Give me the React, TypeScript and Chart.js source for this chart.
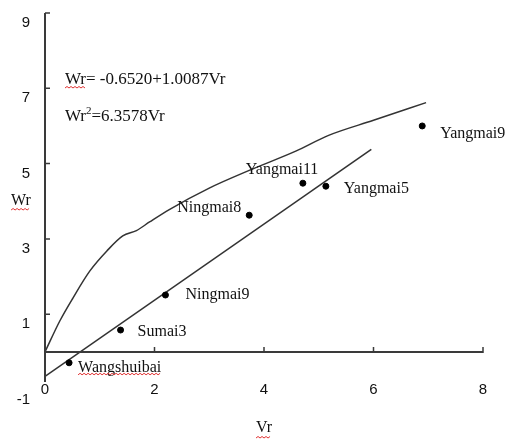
import React, { useEffect, useRef } from 'react';
import { Chart, registerables } from 'chart.js';

Chart.register(...registerables);

// ---- data ----
const varieties = ['Wangshuibai', 'Sumai3', 'Ningmai9', 'Ningmai8', 'Yangmai11', 'Yangmai5', 'Yangmai9'];
const vrValues = [0.44, 1.38, 2.2, 3.73, 4.71, 5.13, 6.89];
const wrValues = [-0.29, 0.58, 1.51, 3.63, 4.48, 4.4, 6.0];

const regressionVr = [0, 5.96];
const regressionWr = [-0.65, 5.38];

const limitVr = [0, 0.27, 0.51, 0.82, 1.13, 1.42, 1.67, 1.91, 2.27, 3.0, 3.73, 4.58, 5.18, 6.0, 6.96];
const limitWr = [0, 0.82, 1.43, 2.15, 2.68, 3.08, 3.22, 3.45, 3.78, 4.35, 4.82, 5.33, 5.75, 6.15, 6.62];

const xTickValues = [0, 2, 4, 6, 8];
const yTickValues = [-1, 1, 3, 5, 7, 9];
const yAxisMin = -0.8;
const yAxisMax = 9;

const xTitle = 'Vr';
const yTitle = 'Wr';
const equationLine = 'Wr= -0.6520+1.0087Vr';
const equationCurve = ['Wr', '2', '=6.3578Vr'];

// ---- label placement (style, not data) ----
const labelPlacement: Record<string, { dx: number; dy: number; align: CanvasTextAlign }> = {
  Wangshuibai: { dx: 9, dy: 5, align: 'left' },
  Sumai3: { dx: 17, dy: 2, align: 'left' },
  Ningmai9: { dx: 20, dy: 0, align: 'left' },
  Ningmai8: { dx: -8, dy: -7, align: 'right' },
  Yangmai11: { dx: -57, dy: -13, align: 'left' },
  Yangmai5: { dx: 18, dy: 3, align: 'left' },
  Yangmai9: { dx: 18, dy: 8, align: 'left' },
};

const SERIF = '"Liberation Serif", "DejaVu Serif", serif';
const SANS = '"Liberation Sans", Arial, sans-serif';

function squiggle(ctx: CanvasRenderingContext2D, x1: number, x2: number, y: number) {
  ctx.save();
  ctx.strokeStyle = '#e03030';
  ctx.lineWidth = 1;
  ctx.beginPath();
  let up = true;
  ctx.moveTo(x1, y);
  for (let x = x1 + 2; x <= x2; x += 2) {
    ctx.lineTo(x, up ? y - 1.5 : y);
    up = !up;
  }
  ctx.stroke();
  ctx.restore();
}

const overlayPlugin = {
  id: 'overlay',
  afterDraw(chart: any) {
    const ctx: CanvasRenderingContext2D = chart.ctx;
    const xs = chart.scales.x;
    const ys = chart.scales.y;
    const x0 = xs.getPixelForValue(0);
    const y0 = ys.getPixelForValue(0);

    ctx.save();
    // axes lines
    ctx.strokeStyle = '#3a3a3a';
    ctx.lineWidth = 2;
    ctx.beginPath();
    ctx.moveTo(x0, ys.getPixelForValue(yAxisMax));
    ctx.lineTo(x0, ys.getPixelForValue(yAxisMin));
    ctx.moveTo(x0, y0);
    ctx.lineTo(xs.getPixelForValue(8), y0);
    ctx.stroke();

    // inside tick marks
    ctx.lineWidth = 1.5;
    ctx.beginPath();
    yTickValues.forEach((v) => {
      if (v < 0) return;
      const p = ys.getPixelForValue(v);
      ctx.moveTo(x0, p);
      ctx.lineTo(x0 + 5, p);
    });
    xTickValues.forEach((v) => {
      if (v === 0) return;
      const p = xs.getPixelForValue(v);
      ctx.moveTo(p, y0 + 1);
      ctx.lineTo(p, y0 - 5);
    });
    ctx.stroke();

    // point labels
    ctx.fillStyle = '#111';
    ctx.font = `16px ${SERIF}`;
    ctx.textBaseline = 'middle';
    varieties.forEach((name, i) => {
      const pl = labelPlacement[name];
      const px = xs.getPixelForValue(vrValues[i]);
      const py = ys.getPixelForValue(wrValues[i]);
      ctx.textAlign = pl.align;
      ctx.fillText(name, px + pl.dx, py + pl.dy);
      if (name === 'Wangshuibai') {
        const w = ctx.measureText(name).width;
        squiggle(ctx, px + pl.dx, px + pl.dx + w, py + pl.dy + 7);
      }
    });

    // equations
    ctx.textAlign = 'left';
    ctx.font = `17px ${SERIF}`;
    ctx.fillText(equationLine, 65, 80);
    const wW = ctx.measureText('Wr').width;
    squiggle(ctx, 65, 65 + wW, 88);
    let ex = 65;
    ctx.fillText(equationCurve[0], ex, 117);
    ex += ctx.measureText(equationCurve[0]).width;
    ctx.font = `11px ${SERIF}`;
    ctx.fillText(equationCurve[1], ex, 111);
    ex += ctx.measureText(equationCurve[1]).width;
    ctx.font = `17px ${SERIF}`;
    ctx.fillText(equationCurve[2], ex, 117);

    // y title (horizontal)
    ctx.font = `16px ${SERIF}`;
    ctx.textAlign = 'center';
    ctx.fillText(yTitle, 21, 201);
    const yw = ctx.measureText(yTitle).width;
    squiggle(ctx, 21 - yw / 2, 21 + yw / 2, 210);

    // x title squiggle
    const cx = (chart.chartArea.left + chart.chartArea.right) / 2;
    const xw = ctx.measureText(xTitle).width;
    squiggle(ctx, cx - xw / 2, cx + xw / 2, 438);
    ctx.restore();
  },
};

export default function App() {
  const canvasRef = useRef<HTMLCanvasElement | null>(null);

  useEffect(() => {
    if (!canvasRef.current) return;
    const pts = vrValues.map((v, i) => ({ x: v, y: wrValues[i] }));
    const reg = regressionVr.map((v, i) => ({ x: v, y: regressionWr[i] }));
    const lim = limitVr.map((v, i) => ({ x: v, y: limitWr[i] }));

    const chart = new Chart(canvasRef.current, {
      type: 'scatter',
      data: {
        datasets: [
          {
            label: 'varieties',
            data: pts,
            pointRadius: 3,
            pointBackgroundColor: '#000',
            pointBorderColor: '#000',
            showLine: false,
          },
          {
            label: 'regression',
            data: reg,
            showLine: true,
            pointRadius: 0,
            borderColor: '#333',
            borderWidth: 1.5,
          },
          {
            label: 'limit',
            data: lim,
            showLine: true,
            pointRadius: 0,
            borderColor: '#333',
            borderWidth: 1.5,
            tension: 0.4,
            cubicInterpolationMode: 'monotone',
          },
        ],
      } as any,
      options: {
        animation: false,
        responsive: false,
        layout: { padding: { top: 13, right: 27, left: 0, bottom: 0 } },
        plugins: { legend: { display: false }, tooltip: { enabled: false } },
        scales: {
          x: {
            type: 'linear',
            position: 'bottom',
            min: 0,
            max: 8,
            afterBuildTicks: (s: any) => {
              s.ticks = xTickValues.map((v) => ({ value: v }));
            },
            grid: { display: false, drawTicks: false },
            border: { display: false },
            ticks: { padding: -1, color: '#111', font: { family: SANS, size: 15 } },
            title: {
              display: true,
              text: xTitle,
              color: '#111',
              font: { family: SERIF, size: 16 },
              padding: { top: 0, bottom: 3 },
            },
            afterFit: (s: any) => {
              s.height = 58;
              s.paddingLeft = 0;
              s.paddingRight = 0;
            },
          },
          y: {
            type: 'linear',
            position: 'left',
            min: yAxisMin,
            max: yAxisMax,
            afterBuildTicks: (s: any) => {
              s.ticks = yTickValues.map((v) => ({ value: v }));
            },
            grid: { display: false, drawTicks: false },
            border: { display: false },
            ticks: { padding: 15, labelOffset: 10, color: '#111', font: { family: SANS, size: 15 } },
            afterFit: (s: any) => {
              s.width = 45;
              s.paddingTop = 0;
              s.paddingBottom = 0;
            },
          },
        },
      } as any,
      plugins: [overlayPlugin],
    });
    return () => chart.destroy();
  }, []);

  return (
    <div style={{ position: 'absolute', left: 0, top: 0, width: 510, height: 440, background: '#fff' }}>
      <canvas ref={canvasRef} width={510} height={440} />
    </div>
  );
}
